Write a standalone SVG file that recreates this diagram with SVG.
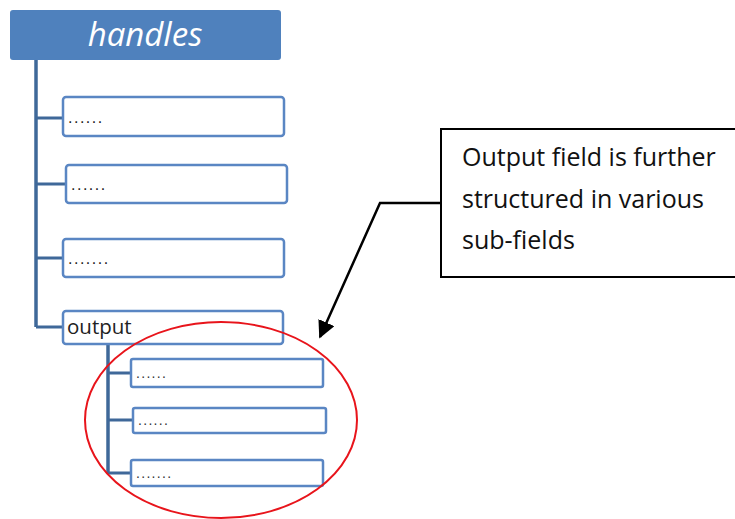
<svg xmlns="http://www.w3.org/2000/svg" width="735" height="519" viewBox="0 0 735 519">
<defs>
<style>
.box{fill:#ffffff;stroke:#5a86c3;stroke-width:2.5}
.trunk{stroke:#3f6899;stroke-width:3.5;fill:none}
.branch{stroke:#3f6899;stroke-width:3;fill:none}
.dots{font-family:"Liberation Sans",Arial,sans-serif;font-size:16px;letter-spacing:1.5px;fill:#222}
.sdots{font-family:"Liberation Sans",Arial,sans-serif;font-size:14px;letter-spacing:1.3px;fill:#333}
.lbl{font-family:"Open Sans","Liberation Sans",sans-serif;font-size:20.5px;fill:#222}
.note{font-family:"Open Sans","Liberation Sans",sans-serif;font-size:25px;fill:#111}
</style>
<marker id="ah" viewBox="0 0 10 10" refX="9" refY="5" markerWidth="7" markerHeight="7" orient="auto" markerUnits="strokeWidth">
<path d="M0,0 L10,5 L0,10 z" fill="#000"/>
</marker>
</defs>
<rect width="735" height="519" fill="#ffffff"/>
<g id="connectors">
<path class="trunk" d="M36,60 V327"/>
<path class="branch" d="M36,118 H63 M36,184 H66 M36,258 H63 M36,327 H63"/>
<path class="trunk" d="M108,344 V474"/>
<path class="branch" d="M108,373 H131 M108,420 H133 M108,473 H131"/>
<path d="M441,203 H380 L320,337" stroke="#000" stroke-width="2.5" fill="none" marker-end="url(#ah)"/>
</g>
<g id="root">
<rect x="10" y="10" width="271" height="50" rx="3" fill="#4f81bd"/>
<text x="145" y="46" text-anchor="middle" font-family="Open Sans,Liberation Sans,sans-serif" font-style="italic" font-size="33" fill="#ffffff">handles</text>
</g>
<g id="n1"><rect class="box" x="63" y="97" width="221" height="39" rx="3"/><text class="dots" x="68" y="123">......</text></g>
<g id="n2"><rect class="box" x="66" y="165" width="221" height="38" rx="3"/><text class="dots" x="71" y="190">......</text></g>
<g id="n3"><rect class="box" x="63" y="239" width="221" height="38" rx="3"/><text class="dots" x="68" y="264">.......</text></g>
<g id="output"><rect class="box" x="63" y="311" width="220" height="33" rx="3"/><text class="lbl" x="67" y="334">output</text></g>
<g id="s1"><rect class="box" x="131" y="359" width="192" height="28" rx="2"/><text class="sdots" x="136" y="378">......</text></g>
<g id="s2"><rect class="box" x="133" y="408" width="193" height="25" rx="2"/><text class="sdots" x="138" y="425">......</text></g>
<g id="s3"><rect class="box" x="131" y="460" width="192" height="26" rx="2"/><text class="sdots" x="136" y="478">.......</text></g>
<g id="ellipse"><ellipse cx="221" cy="420" rx="136" ry="98" fill="none" stroke="#e8141b" stroke-width="2"/></g>
<g id="note">
<rect x="441" y="129" width="300" height="148" fill="#ffffff" stroke="#000" stroke-width="2"/>
<text class="note" x="462" y="166">Output field is further</text>
<text class="note" x="462" y="208">structured in various</text>
<text class="note" x="462" y="249">sub-fields</text>
</g>
</svg>
